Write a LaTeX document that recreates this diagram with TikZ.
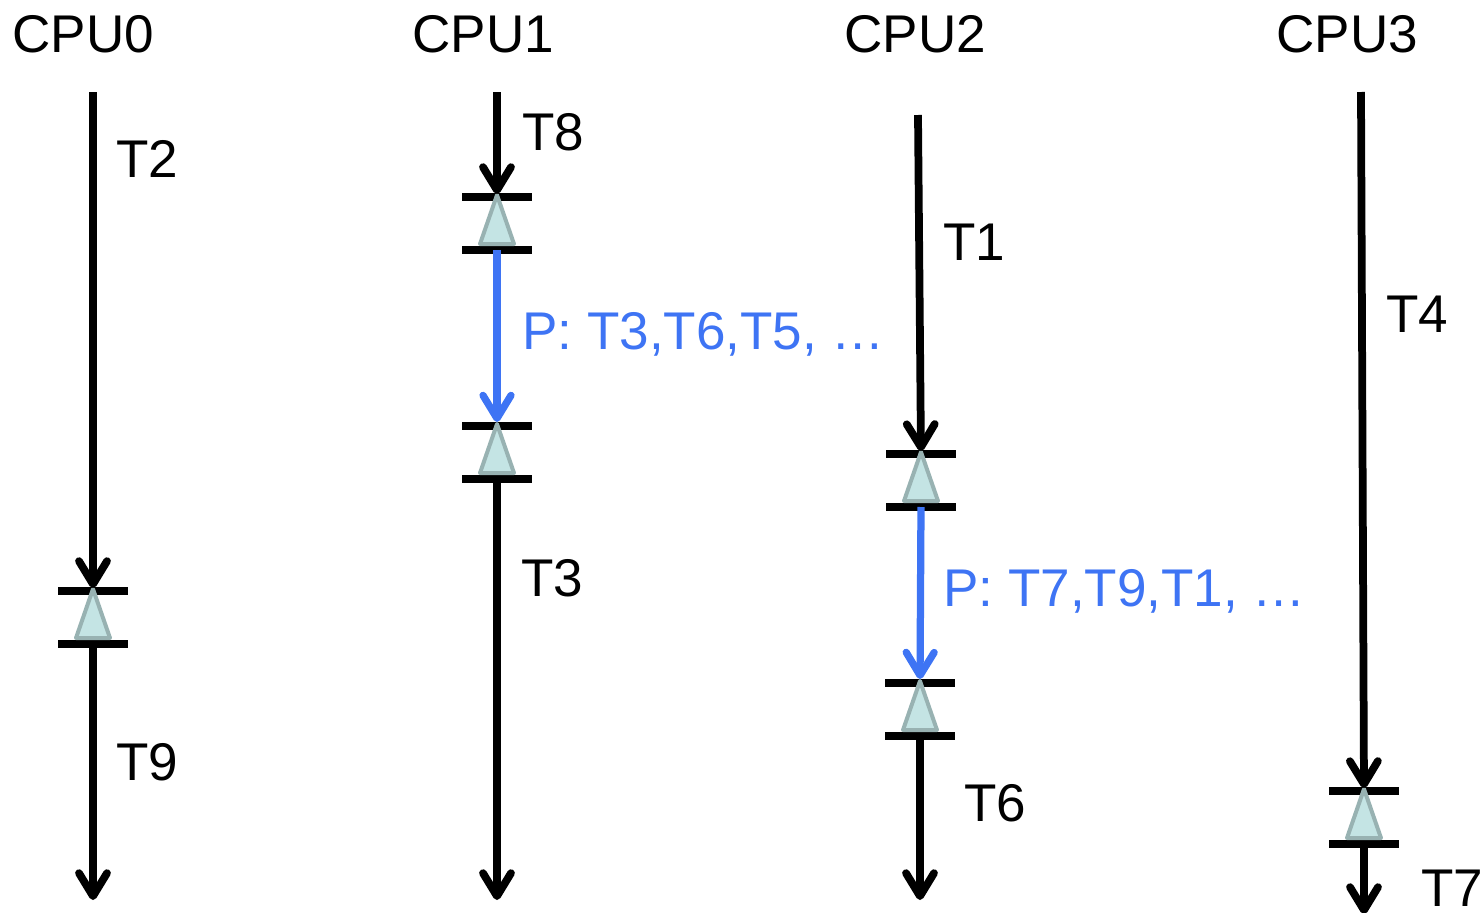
\documentclass[tikz,border=0pt]{standalone}
\usepackage{fontspec}
\setmainfont{Liberation Sans}
\usepackage{xcolor}
\usepackage{tikz}
\usetikzlibrary{arrows.meta}

\definecolor{passblue}{RGB}{62,116,244}
\definecolor{markfill}{RGB}{196,228,228}
\definecolor{markedge}{RGB}{152,178,178}

\begin{document}
\begin{tikzpicture}[
  x=0.02cm, y=-0.02cm,
  runline/.style={line width=0.155cm,
    -{Straight Barb[length=0.46cm, width=0.56cm, round]}},
  intoline/.style={runline, shorten >=0.06cm},
  passline/.style={runline, passblue, line width=0.145cm, shorten >=0.08cm},
  cpulabel/.style={anchor=base west, inner sep=0pt,
    font=\fontsize{30.2}{35}\selectfont},
  tlabel/.style={cpulabel},
  plabel/.style={cpulabel, text=passblue},
  syncmark/.pic={
    \coordinate (-top) at (0,0);
    \coordinate (-bot) at (0,53);
    \draw[line width=0.15cm] (-35,0) -- (35,0);
    \draw[line width=0.15cm] (-35,53) -- (35,53);
    \filldraw[fill=markfill, draw=markedge, line width=0.08cm, line join=round]
      (0,-2) -- (-17,47) -- (17,47) -- cycle;
  },
]
\useasboundingbox (0,0) rectangle (1482,913);

% ── CPU0 ─────────────────────────────────────────────────────────────────────
\node[cpulabel] (cpu0) at (12,52) {CPU0};
\coordinate (c0s) at (93,92);
\pic (m0) at (93,591) {syncmark};
\coordinate (c0e) at (93,900);
\draw[intoline] (c0s) -- (m0-top);
\draw[runline] (m0-bot) -- (c0e);
\node[tlabel] (t2) at (116,177) {T2};
\node[tlabel] (t9) at (116,780) {T9};

% ── CPU1 ─────────────────────────────────────────────────────────────────────
\node[cpulabel] (cpu1) at (412,52) {CPU1};
\coordinate (c1s) at (497,92);
\pic (m1a) at (497,197) {syncmark};
\pic (m1b) at (497,426) {syncmark};
\coordinate (c1e) at (497,900);
\draw[intoline] (c1s) -- (m1a-top);
\draw[passline] (m1a-bot) -- (m1b-top);
\draw[runline] (m1b-bot) -- (c1e);
\node[tlabel] (t8) at (522,150) {T8};
\node[plabel] (p1) at (522,349) {P: T3,T6,T5, …};
\node[tlabel] (t3) at (521,596) {T3};

% ── CPU2 ─────────────────────────────────────────────────────────────────────
\node[cpulabel] (cpu2) at (844,52) {CPU2};
\coordinate (c2s) at (918,115);
\pic (m2a) at (921,454) {syncmark};
\pic (m2b) at (920,683) {syncmark};
\coordinate (c2e) at (920,900);
\draw[intoline] (c2s) -- (m2a-top);
\draw[passline] (m2a-bot) -- (m2b-top);
\draw[runline] (m2b-bot) -- (c2e);
\node[tlabel] (t1) at (943,260) {T1};
\node[plabel] (p2) at (943,606) {P: T7,T9,T1, …};
\node[tlabel] (t6) at (964,821) {T6};

% ── CPU3 ─────────────────────────────────────────────────────────────────────
\node[cpulabel] (cpu3) at (1276,52) {CPU3};
\coordinate (c3s) at (1361,92);
\pic (m3) at (1364,791) {syncmark};
\coordinate (c3e) at (1364,914);
\draw[intoline] (c3s) -- (m3-top);
\draw[runline] (m3-bot) -- (c3e);
\node[tlabel] (t4) at (1386,332) {T4};
\node[tlabel] (t7) at (1421,906) {T7};

\end{tikzpicture}
\end{document}
